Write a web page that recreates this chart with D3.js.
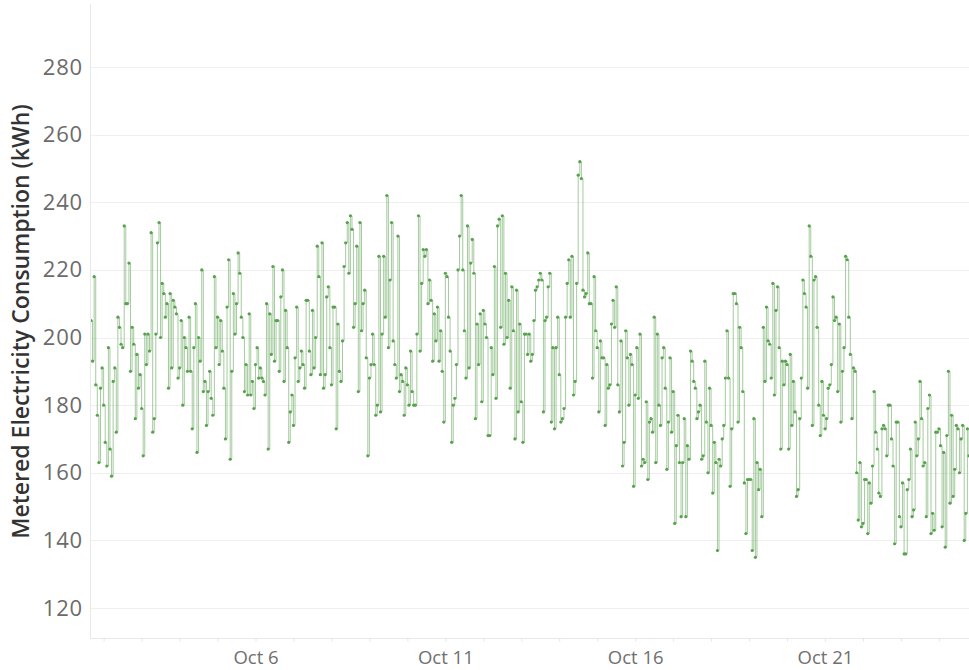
<!DOCTYPE html>
<html>
<head>
<meta charset="utf-8">
<script src="https://cdn.jsdelivr.net/npm/d3@7"></script>
<style>
  html, body { margin: 0; padding: 0; background: #fff; }
  svg { display: block; }
</style>
</head>
<body>
<svg id="chart" width="969" height="670"></svg>
<script>
// ---- data (hourly metered consumption, kWh) ----
const startHour = new Date(2019, 9, 1, 16, 0); // first reading: Oct 1, 16:00
const consumption = [
  205,193,218,186,177,163,185,191,180,169,162,197,167,159,187,191,172,206,203,198,197,233,210,210,222,190,
  203,198,176,195,185,189,179,165,201,192,201,196,231,172,176,201,228,234,200,216,
  213,206,210,185,213,191,211,209,207,188,191,205,180,200,197,190,206,190,173,197,
  210,166,200,193,220,184,187,174,184,190,182,177,218,197,206,192,205,196,185,170,
  209,223,164,190,213,201,210,225,219,206,200,184,192,183,207,183,187,179,192,197,188,
  191,188,187,183,210,167,207,195,221,193,205,205,190,212,220,187,208,197,169,178,
  183,174,194,209,187,191,196,192,185,211,211,196,189,208,191,200,227,218,189,228,
  185,189,212,215,197,186,209,209,173,204,190,187,199,221,228,234,219,236,232,203,
  210,227,184,234,202,210,214,194,165,188,192,201,192,177,180,224,178,201,224,206,
  242,197,217,234,199,192,188,230,184,189,187,177,191,186,180,196,184,180,180,201,
  236,196,216,226,224,226,210,217,
  211,193,207,199,209,193,202,190,175,219,218,206,196,169,180,182,192,220,230,242,
  220,202,188,233,191,222,229,219,176,204,192,207,181,208,204,200,171,171,197,189,
  221,182,233,235,203,236,198,219,200,211,185,215,202,170,214,178,204,181,169,201,
  201,195,201,193,195,205,214,215,217,219,217,178,205,206,215,219,175,197,173,197,
  206,189,175,176,179,206,216,223,206,224,183,187,216,248,252,247,214,212,213,225,
  210,210,188,218,202,197,178,
  199,194,194,174,192,185,186,204,211,203,215,186,178,199,162,169,202,194,180,195,
  192,156,183,197,182,201,162,164,163,181,158,175,176,172,206,163,201,180,174,194,
  197,185,161,175,194,172,184,145,168,177,163,147,163,176,147,168,164,196,193,187,
  185,176,178,180,164,165,193,175,160,185,174,154,169,163,137,164,162,170,174,188,
  202,188,156,173,213,213,210,175,203,197,184,157,142,158,158,158,137,176,135,163,
  155,161,147,203,187,209,199,198,188,216,183,208,215,
  197,167,193,186,193,192,167,195,174,187,178,153,155,176,188,217,213,209,185,233,
  224,174,217,218,203,180,171,187,177,173,176,185,186,192,212,205,206,184,204,175,
  190,197,224,223,206,195,176,191,190,160,146,163,144,145,158,158,142,157,151,162,
  184,172,167,154,153,173,174,173,165,180,180,170,162,139,175,175,147,144,157,136,
  136,155,158,167,147,149,175,165,170,187,176,162,163,147,179,183,142,148,143,172,
  172,173,168,144,166,138,171,190,151,177,153,161,174,173,160,170,174,140,148,173,165
];
const yTicks = [120, 140, 160, 180, 200, 220, 240, 260, 280];
const xTickDates = [new Date(2019, 9, 6), new Date(2019, 9, 11), new Date(2019, 9, 16), new Date(2019, 9, 21)];
const xTickLabels = ["Oct 6", "Oct 11", "Oct 16", "Oct 21"];
const yTitle = "Metered Electricity Consumption (kWh)";

// ---- build ----
const data = consumption.map((v, i) => ({ t: d3.timeHour.offset(startHour, i), v }));

const plot = { left: 90, right: 969, top: 4, bottom: 638 };
const svg = d3.select("#chart");

const x0 = d3.scaleTime().domain([xTickDates[0], xTickDates[3]]).range([255.5, 825]);
const x = d3.scaleTime()
  .domain([x0.invert(plot.left), x0.invert(plot.right)])
  .range([plot.left, plot.right]);

const y0 = d3.scaleLinear().domain([120, 280]).range([608, 67]);
const y = d3.scaleLinear()
  .domain([y0.invert(plot.bottom), y0.invert(0)])
  .range([plot.bottom, 0]);

const font = "'Open Sans', 'Lato', sans-serif";

// gridlines
svg.append("g")
  .selectAll("line")
  .data(yTicks)
  .join("line")
  .attr("x1", plot.left).attr("x2", plot.right)
  .attr("y1", d => Math.round(y(d)) + 0.5).attr("y2", d => Math.round(y(d)) + 0.5)
  .attr("stroke", "#efefef").attr("stroke-width", 1);

// axis frame lines
svg.append("line")
  .attr("x1", plot.left + 0.5).attr("x2", plot.left + 0.5)
  .attr("y1", plot.top).attr("y2", plot.bottom)
  .attr("stroke", "#e8e8e8");
svg.append("line")
  .attr("x1", plot.left).attr("x2", plot.right)
  .attr("y1", plot.bottom + 0.5).attr("y2", plot.bottom + 0.5)
  .attr("stroke", "#e8e8e8");

// x axis (labels + small day ticks)
const xAxis = d3.axisBottom(x)
  .tickValues(d3.timeDay.range(x.domain()[0], x.domain()[1]))
  .tickSize(3)
  .tickFormat(d => {
    const k = xTickDates.findIndex(t => +t === +d);
    return k >= 0 ? xTickLabels[k] : "";
  });
const gx = svg.append("g")
  .attr("transform", `translate(0,${plot.bottom + 0.5})`)
  .call(xAxis);
gx.select(".domain").remove();
gx.selectAll(".tick line").attr("stroke", "#e4e4e4");
gx.selectAll(".tick text")
  .attr("font-family", font)
  .attr("font-size", 18.5)
  .attr("fill", "#707070")
  .attr("dy", "0.71em")
  .attr("y", 12);

// y axis labels
const yAxis = d3.axisLeft(y).tickValues(yTicks).tickSize(0).tickPadding(0);
const gy = svg.append("g")
  .attr("transform", `translate(83,0)`)
  .call(yAxis);
gy.select(".domain").remove();
gy.selectAll(".tick text")
  .attr("font-family", font)
  .attr("font-size", 22)
  .attr("letter-spacing", 0.8)
  .attr("fill", "#6b6b6b");

// y title
svg.append("text")
  .attr("transform", `translate(29,${(100 + 543) / 2}) rotate(-90)`)
  .attr("text-anchor", "middle")
  .attr("font-family", font)
  .attr("font-size", 23)
  .attr("font-weight", 600)
  .attr("fill", "#333")
  .text(yTitle);

// clip
svg.append("clipPath").attr("id", "clip")
  .append("rect")
  .attr("x", plot.left + 1).attr("y", 0)
  .attr("width", plot.right - plot.left).attr("height", plot.bottom);

const g = svg.append("g").attr("clip-path", "url(#clip)");

const line = d3.line()
  .x(d => x(d.t))
  .y(d => y(d.v))
  .curve(d3.curveStepAfter);

g.append("path")
  .datum(data)
  .attr("d", line)
  .attr("fill", "none")
  .attr("stroke", "#59a14f")
  .attr("stroke-opacity", 0.55)
  .attr("stroke-width", 1);

g.append("g")
  .selectAll("circle")
  .data(data)
  .join("circle")
  .attr("cx", d => x(d.t))
  .attr("cy", d => y(d.v))
  .attr("r", 1.6)
  .attr("fill", "#59a14f");
</script>
</body>
</html>
